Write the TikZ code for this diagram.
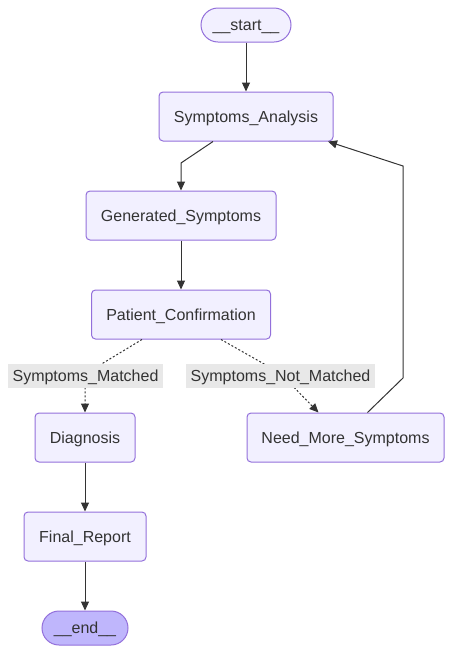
\documentclass[tikz,border=0pt]{standalone}
\usepackage{fontspec}
\setmainfont{Liberation Sans}
\usetikzlibrary{arrows.meta}
\definecolor{nodefill}{HTML}{F2F0FF}
\definecolor{nodeline}{HTML}{9370DB}
\definecolor{endfill}{HTML}{BFB6FC}
\definecolor{txt}{HTML}{333333}
\definecolor{lblbg}{HTML}{E8E8E8}
\begin{document}
\begin{tikzpicture}[x=1pt,y=-1pt,
  every node/.style={font=\fontsize{16}{19}\selectfont, text=txt, text height=15.1pt, text depth=4.1pt},
  box/.style={draw=nodeline, fill=nodefill, rounded corners=4pt, line width=1pt, minimum height=49pt, inner sep=0pt},
  term/.style={draw=nodeline, fill=nodefill, rounded corners=17pt, line width=1pt, minimum height=34pt, inner sep=0pt},
  flow/.style={draw=txt, line width=1pt, -{Triangle[length=9pt,width=8pt]}},
  dflow/.style={flow, dash pattern=on 2pt off 2pt},
  lbl/.style={fill=lblbg, inner sep=0pt, minimum height=24pt}]
\useasboundingbox (0,0) rectangle (453,654);
\node[term, minimum width=90pt] (start) at (246,25) {\_\_start\_\_};
\node[box, minimum width=174pt] (sa) at (246,116.5) {Symptoms\_Analysis};
\node[box, minimum width=190pt] (gs) at (181,215.5) {Generated\_Symptoms};
\node[box, minimum width=179pt] (pc) at (181,314.5) {Patient\_Confirmation};
\node[box, minimum width=100pt] (dg) at (85,437.5) {Diagnosis};
\node[box, minimum width=197pt] (nm) at (345.5,437.5) {Need\_More\_Symptoms};
\node[box, minimum width=122pt] (fr) at (85,536.5) {Final\_Report};
\node[term, fill=endfill, minimum width=86pt] (end) at (85,628) {\_\_end\_\_};
\coordinate (b1) at (181,163);
\coordinate (m1) at (85,374);
\coordinate (m2) at (280,373);
\coordinate (r1) at (403,378);
\coordinate (r2) at (403,166);
\draw[flow] (start) -- (sa);
\draw[flow] ([xshift=-33pt]sa.south) -- (b1) -- (gs.north);
\draw[flow] (gs) -- (pc);
\draw[dflow] ([xshift=-39pt]pc.south) -- (m1) -- (dg.north);
\draw[dflow] ([xshift=40pt]pc.south) -- (m2) -- ([xshift=-27pt]nm.north);
\draw[flow] ([xshift=22pt]nm.north) -- (r1) -- (r2) -- ([xshift=82pt]sa.south);
\draw[flow] (dg) -- (fr);
\draw[flow] (fr) -- (end);
\node[lbl, minimum width=155pt] (l1) at (85.5,376) {Symptoms\_Matched};
\node[lbl, minimum width=189pt] (l2) at (280.5,376) {Symptoms\_Not\_Matched};
\end{tikzpicture}
\end{document}
